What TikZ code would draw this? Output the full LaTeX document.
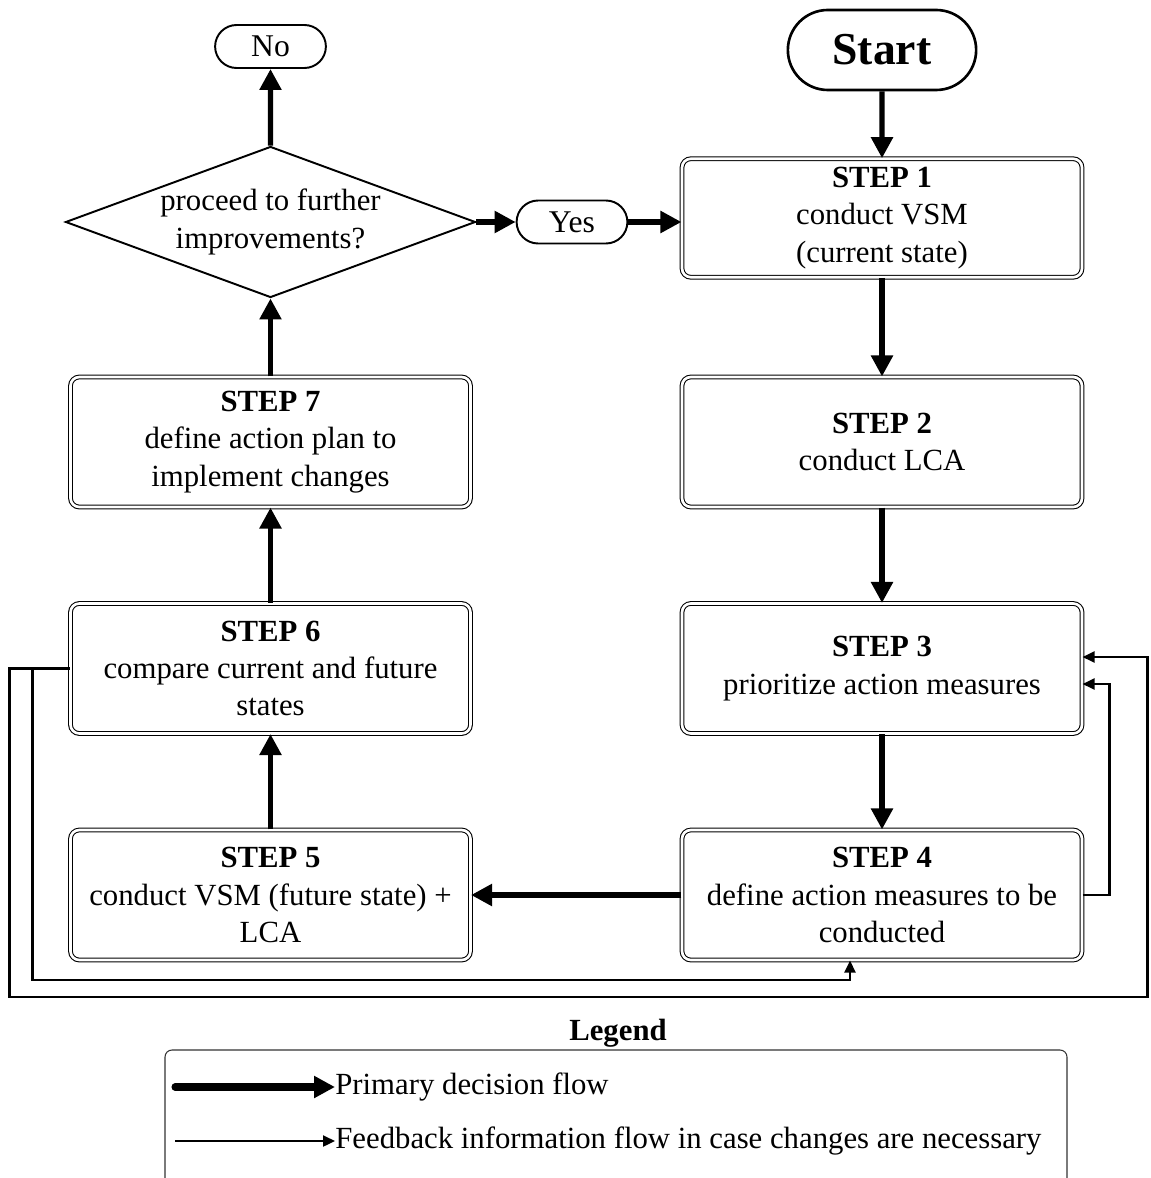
\documentclass[tikz,border=0pt]{standalone}
\usepackage{fontspec}
\setmainfont{Liberation Serif}
\usetikzlibrary{shapes.geometric,shapes.misc,arrows.meta}

\begin{document}
\begin{tikzpicture}[
    node distance=4.53cm,
    stepbox/.style={draw, double, double distance=1.5pt, line width=0.6pt, rounded corners=5pt, fill=white, minimum width=8cm, minimum height=2.6cm, align=center, font=\fontsize{17.5}{21.3}\selectfont},
    terminal/.style={draw, rounded rectangle, line width=1.1pt, minimum width=2.45cm, minimum height=0.86cm, font=\fontsize{18}{21}\selectfont},
    decision/.style={draw, diamond, line width=1.1pt, shape aspect=2.7, minimum width=8.2cm, minimum height=3.02cm, inner sep=0pt, align=center, font=\fontsize{17.5}{21.3}\selectfont},
    flow/.style={-{Triangle[length=0.42cm, width=0.42cm]}, line width=3pt},
    feedback/.style={-{Triangle[length=0.24cm, width=0.22cm]}, line width=1.3pt},
    legendtext/.style={anchor=west, inner sep=0pt, font=\fontsize{17.5}{21.3}\selectfont}
]
  \useasboundingbox (0,0) rectangle (23,-23.56);

  % Right column
  \node[stepbox, minimum height=2.37cm] (step1) at (17.64,-4.36) {\textbf{STEP 1}\\conduct VSM\\(current state)};
  \node[stepbox] (step2) [below of=step1, yshift=0.05cm] {\textbf{STEP 2}\\conduct LCA};
  \node[stepbox] (step3) [below of=step2] {\textbf{STEP 3}\\prioritize action measures};
  \node[stepbox] (step4) [below of=step3] {\textbf{STEP 4}\\define action measures to be\\conducted};
  \node[terminal, line width=1.5pt, minimum width=4cm, minimum height=1.6cm, font=\fontsize{26}{30}\selectfont\bfseries] (start) [above of=step1, yshift=-1.17cm] {Start};

  % Left column
  \node[stepbox] (step5) [left of=step4, xshift=-7.7cm] {\textbf{STEP 5}\\conduct VSM (future state) +\\LCA};
  \node[stepbox] (step6) [above of=step5] {\textbf{STEP 6}\\compare current and future\\states};
  \node[stepbox] (step7) [above of=step6] {\textbf{STEP 7}\\define action plan to\\implement changes};
  \node[decision] (dec) [above of=step7, yshift=-0.13cm] {proceed to further\\improvements?};
  \node[terminal] (no) [above of=dec, yshift=-1.02cm] {No};
  \node[terminal] (yes) [right of=dec, xshift=1.5cm] {Yes};

  % Primary decision flow
  \draw[flow] (start) -- (step1);
  \draw[flow] (step1) -- (step2);
  \draw[flow] (step2) -- (step3);
  \draw[flow] (step3) -- (step4);
  \draw[flow] (step4) -- (step5);
  \draw[flow] (step5) -- (step6);
  \draw[flow] (step6) -- (step7);
  \draw[flow] (step7) -- (dec);
  \draw[flow] (dec) -- (no);
  \draw[flow] (dec) -- (yes);
  \draw[flow] (yes.east) -- (yes.east -| step1.west);

  % Feedback loops
  \draw[feedback] (step6.west) -- ++(-0.75,0) -- ++(0,-6.23) -| ([xshift=-0.64cm]step4.south);
  \draw[feedback] (step6.west) -- ++(-1.21,0) -- ++(0,-6.57) -- ++(22.76,0) |- ([yshift=0.23cm]step3.east);
  \draw[feedback] (step4.east) -- ++(0.54,0) |- ([yshift=-0.31cm]step3.east);

  % Legend
  \node[font=\fontsize{17.5}{21.3}\selectfont\bfseries] (legendtitle) at (12.36,-20.66) {Legend};
  \draw[rounded corners=4pt, line width=0.6pt, draw=black!80] (3.3,-21.0) rectangle (21.34,-23.9);
  \coordinate (flowstart) at (3.5,-21.74);
  \coordinate (fbstart) at (3.5,-22.82);
  \node[legendtext] (flowtext) at (6.7,-21.74) {Primary decision flow};
  \node[legendtext] (fbtext) at (6.7,-22.82) {Feedback information flow in case changes are necessary};
  \draw[flow, line width=4pt, line cap=round] (flowstart) -- (flowtext.west);
  \draw[feedback] (fbstart) -- (fbtext.west);
\end{tikzpicture}
\end{document}
